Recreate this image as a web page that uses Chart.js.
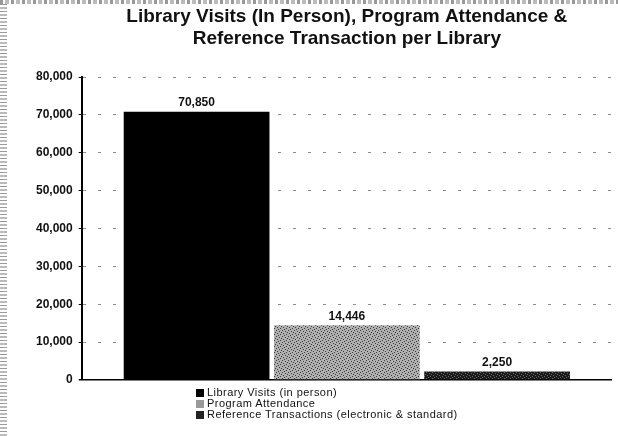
<!DOCTYPE html>
<html>
<head>
<meta charset="utf-8">
<script src="https://cdn.jsdelivr.net/npm/chart.js@4"></script>
<style>
  body { margin: 0; background: #fff; }
  #wrap { position: relative; width: 618px; height: 436px; }
  #edgeLeft { position: absolute; left: 0; top: 0; width: 7px; height: 436px;
    background: repeating-linear-gradient(0deg, #bbb 0 2px, #fff 2px 4px, #999 4px 5px, #fff 5px 7px); }
  #edgeTop { position: absolute; left: 0; top: 0; width: 618px; height: 4px;
    background: repeating-linear-gradient(90deg, #999 0 3px, #fff 3px 5px, #bbb 5px 9px, #fff 9px 11px); }
  #legend { position: absolute; left: 196px; top: 387px; font: 11px "Liberation Sans", Arial, sans-serif; letter-spacing: 0.45px; color: #111; }
  #legend div { height: 11px; line-height: 11px; white-space: nowrap; }
  #legend span { display: inline-block; width: 8px; height: 8px; margin-right: 3px; vertical-align: -1px; }
</style>
</head>
<body>
<div id="wrap">
  <canvas id="myBarChart" width="618" height="436"></canvas>
  <div id="edgeLeft"></div>
  <div id="edgeTop"></div>
  <div id="legend"></div>
</div>
<script>
const seriesNames = ['Library Visits (in person)', 'Program Attendance', 'Reference Transactions (electronic & standard)'];
const seriesValues = [70850, 14446, 2250];
const categories = [''];
const yTicks = [0, 10000, 20000, 30000, 40000, 50000, 60000, 70000, 80000];

document.addEventListener("DOMContentLoaded", function () {
  // textured fills for the lighter bars
  function makePattern(base, dots) {
    const c = document.createElement('canvas');
    c.width = 6; c.height = 6;
    const g = c.getContext('2d');
    g.fillStyle = base;
    g.fillRect(0, 0, 6, 6);
    g.fillStyle = dots;
    [[0,0],[3,1],[1,3],[4,4],[2,5],[5,2]].forEach(function (p) { g.fillRect(p[0], p[1], 1, 1); });
    return g.createPattern(c, 'repeat');
  }
  const ctx = document.getElementById('myBarChart').getContext('2d');
  const fills = ['#000000', makePattern('#b0b0b0', '#3a3a3a'), makePattern('#1c1c1c', '#666666')];
  const swatches = ['#000000', '#999999', '#222222'];

  const valueLabels = {
    id: 'valueLabels',
    afterDatasetsDraw(chart) {
      const c = chart.ctx;
      c.save();
      c.font = 'bold 12px "Liberation Sans", Arial, sans-serif';
      c.fillStyle = '#111';
      c.textAlign = 'center';
      c.textBaseline = 'bottom';
      chart.data.datasets.forEach(function (ds, i) {
        const bar = chart.getDatasetMeta(i).data[0];
        c.fillText(ds.data[0].toLocaleString('en-US'), bar.x, bar.y - 3);
      });
      c.restore();
    }
  };

  const barData = {
    labels: categories,
    datasets: seriesNames.map(function (name, i) {
      return {
        label: name,
        data: [seriesValues[i]],
        backgroundColor: fills[i],
        borderWidth: 0,
        barPercentage: 0.97,
        categoryPercentage: 0.85
      };
    })
  };

  function isZero(c) { return c.tick && c.tick.value === 0; }

  const barConfig = {
    type: 'bar',
    data: barData,
    options: {
      responsive: false,
      animation: false,
      layout: { padding: { left: 30, right: 6, top: 4, bottom: 56 } },
      plugins: {
        legend: { display: false },
        tooltip: { enabled: false },
        title: {
          display: true,
          fullSize: false,
          text: ['Library Visits (In Person), Program Attendance &', 'Reference Transaction per Library'],
          color: '#111',
          font: { family: '"Liberation Sans", Arial, sans-serif', size: 19, weight: 'bold', lineHeight: 1.16 },
          padding: { top: 2, bottom: 27 }
        }
      },
      scales: {
        x: {
          grid: { display: false, drawTicks: false },
          border: { display: false },
          ticks: { display: false }
        },
        y: {
          min: 0,
          max: 80000,
          afterBuildTicks: function (axis) { axis.ticks = yTicks.map(function (v) { return { value: v }; }); },
          grid: {
            color: function (c) { return isZero(c) ? '#000' : '#8a8a8a'; },
            lineWidth: function (c) { return isZero(c) ? 1.5 : 1; },
            drawTicks: true, tickLength: 3, tickColor: '#000', tickBorderDash: []
          },
          border: { color: '#000', width: 2, dash: function (c) { return isZero(c) ? [] : [3, 12]; } },
          ticks: {
            padding: 6,
            color: '#111',
            font: { family: '"Liberation Sans", Arial, sans-serif', size: 12, weight: 'bold' },
            callback: function (v) { return v.toLocaleString('en-US'); }
          }
        }
      }
    },
    plugins: [valueLabels]
  };

  const myBarChart = new Chart(ctx, barConfig);

  const legend = document.getElementById('legend');
  seriesNames.forEach(function (name, i) {
    const row = document.createElement('div');
    const sw = document.createElement('span');
    sw.style.background = swatches[i];
    row.appendChild(sw);
    row.appendChild(document.createTextNode(name));
    legend.appendChild(row);
  });
});
</script>
</body>
</html>
